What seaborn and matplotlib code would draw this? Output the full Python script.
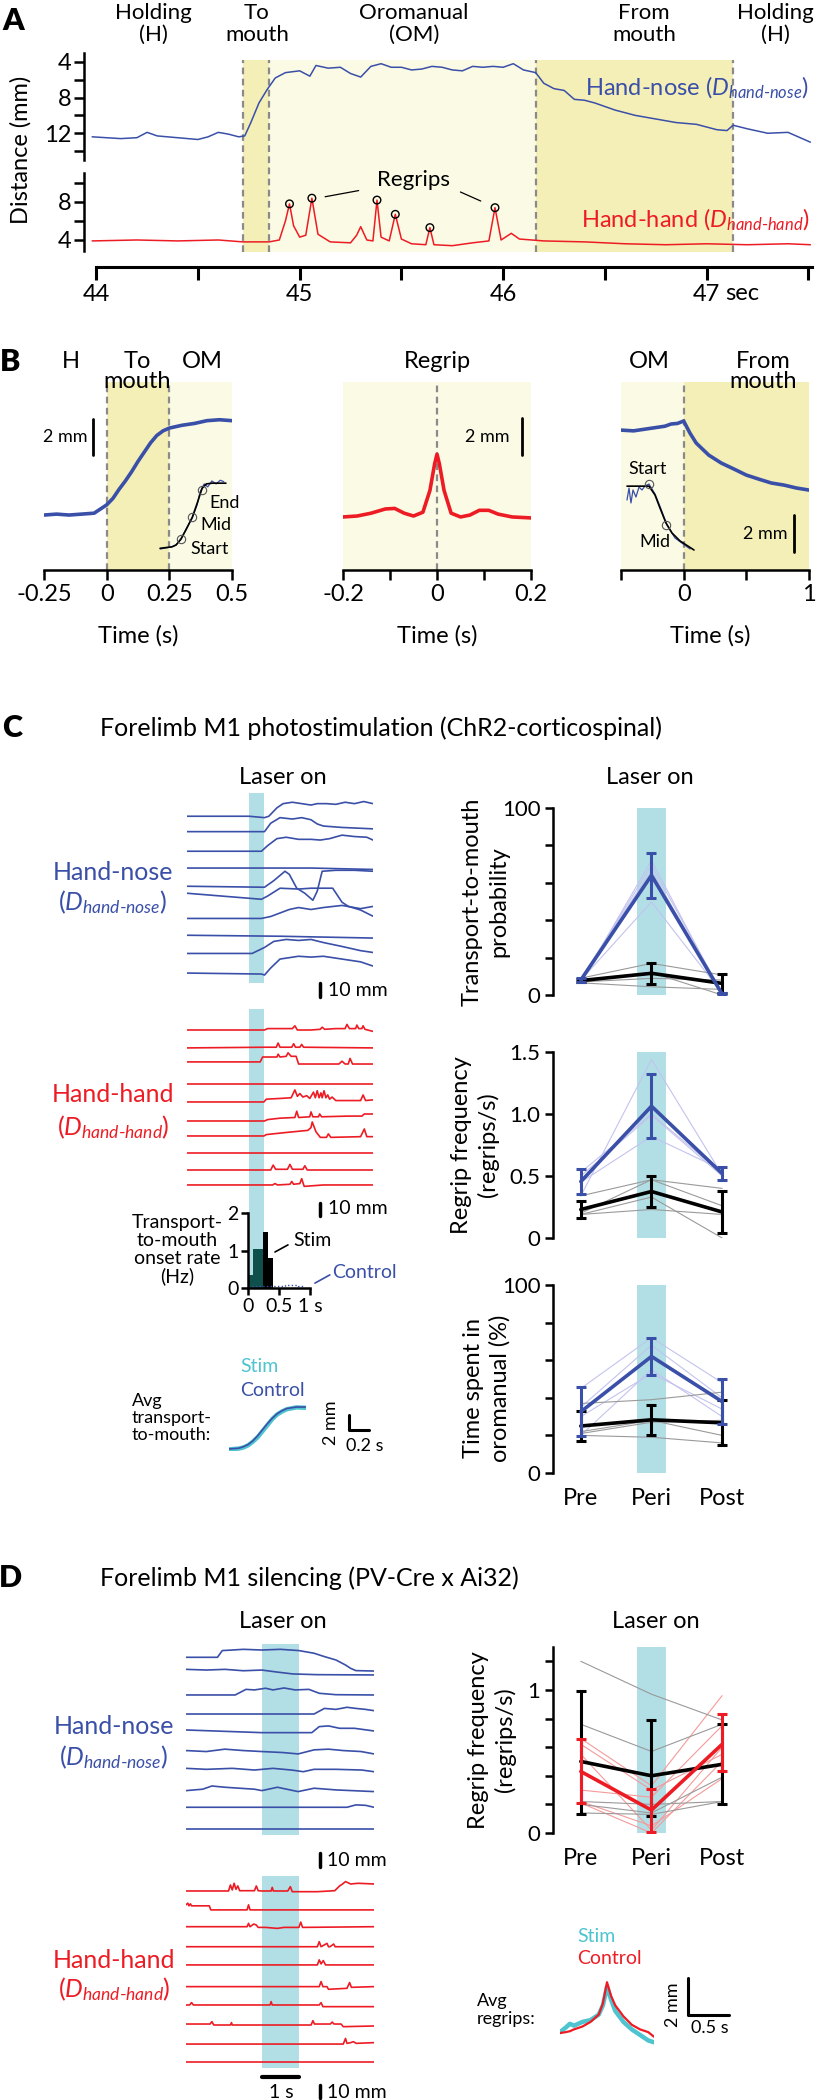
import matplotlib
matplotlib.use('Agg')
import matplotlib.pyplot as plt
import pandas as pd
import seaborn as sns

# ---------------- data ----------------
# Panel A: one example trial (time in s, distance in mm)
a_phase_edges = [44.72, 44.85, 46.16, 47.13]
a_nose = [(43.98, 12.4), (44.05, 12.5), (44.12, 12.6), (44.2, 12.5), (44.25, 11.9), (44.3, 12.3),
          (44.4, 12.5), (44.5, 12.7), (44.55, 12.4), (44.6, 11.9), (44.65, 12.1), (44.7, 12.4),
          (44.73, 12.3), (44.76, 10.8), (44.8, 8.6), (44.84, 7.1), (44.88, 5.8), (44.93, 5.2),
          (45.0, 5.0), (45.05, 5.6), (45.08, 4.4), (45.14, 4.7), (45.2, 4.6), (45.25, 5.3),
          (45.3, 5.7), (45.35, 4.5), (45.4, 4.2), (45.45, 4.6), (45.5, 4.6), (45.55, 4.9),
          (45.6, 4.8), (45.65, 4.5), (45.7, 4.6), (45.75, 4.9), (45.8, 5.0), (45.85, 4.5),
          (45.9, 4.6), (45.95, 4.5), (46.0, 4.6), (46.05, 4.2), (46.1, 4.9), (46.16, 5.2),
          (46.2, 6.4), (46.25, 7.0), (46.3, 7.2), (46.35, 8.2), (46.4, 8.3), (46.45, 8.6),
          (46.55, 9.4), (46.65, 10.0), (46.75, 10.4), (46.85, 10.8), (46.95, 11.0), (47.05, 11.6),
          (47.1, 11.7), (47.13, 11.1), (47.2, 11.5), (47.3, 12.0), (47.4, 11.9), (47.45, 12.4),
          (47.51, 13.0)]
a_hand = [(43.98, 3.9), (44.2, 4.0), (44.4, 3.9), (44.6, 4.0), (44.72, 3.8), (44.85, 3.8),
          (44.9, 4.0), (44.93, 6.0), (44.95, 7.8), (44.97, 5.5), (45.0, 4.3), (45.03, 4.5),
          (45.06, 8.4), (45.09, 4.6), (45.15, 3.8), (45.25, 3.7), (45.28, 4.5), (45.30, 5.4),
          (45.33, 4.0), (45.36, 3.9), (45.38, 8.2), (45.40, 4.3), (45.44, 3.9), (45.47, 6.7),
          (45.5, 4.1), (45.55, 3.6), (45.62, 3.5), (45.64, 5.3), (45.66, 3.5), (45.75, 3.4),
          (45.85, 3.7), (45.93, 3.9), (45.96, 7.4), (45.99, 4.0), (46.04, 4.7), (46.08, 4.1),
          (46.2, 3.9), (46.4, 3.8), (46.6, 3.6), (46.8, 3.5), (47.0, 3.6), (47.2, 3.5),
          (47.4, 3.6), (47.51, 3.5)]
a_regrip_t = [44.95, 45.06, 45.38, 45.47, 45.64, 45.96]
a_regrip_mm = [7.8, 8.4, 8.2, 6.7, 5.3, 7.4]

# Panel B: averaged traces (s, mm)
b_to_mouth = [(-0.25, 0.0), (-0.2, 0.05), (-0.15, 0.0), (-0.1, 0.05), (-0.05, 0.1), (0.0, 0.55),
              (0.025, 0.9), (0.05, 1.4), (0.075, 1.85), (0.1, 2.35), (0.125, 2.9), (0.15, 3.4),
              (0.175, 3.9), (0.2, 4.3), (0.225, 4.55), (0.25, 4.7), (0.3, 4.85), (0.35, 4.95),
              (0.4, 5.1), (0.45, 5.15), (0.5, 5.1)]
b_regrip = [(-0.2, 0.0), (-0.17, 0.05), (-0.14, 0.2), (-0.11, 0.42), (-0.09, 0.45), (-0.07, 0.2),
            (-0.05, 0.05), (-0.03, 0.25), (-0.015, 1.4), (-0.005, 2.8), (0.0, 3.3), (0.005, 2.8),
            (0.015, 1.4), (0.03, 0.2), (0.05, 0.0), (0.07, 0.1), (0.09, 0.35), (0.11, 0.35),
            (0.13, 0.15), (0.16, 0.0), (0.2, -0.05)]
b_from_mouth = [(-0.5, 3.24), (-0.4, 3.2), (-0.25, 3.35), (-0.15, 3.45), (-0.1, 3.57), (-0.05, 3.6),
                (0.0, 3.73), (0.05, 3.08), (0.1, 2.54), (0.2, 1.89), (0.3, 1.46), (0.4, 1.14),
                (0.5, 0.81), (0.6, 0.59), (0.7, 0.38), (0.8, 0.27), (0.9, 0.11), (1.0, 0.0)]
# B insets (normalised units)
b_in_fit = [(0.03, 0.05), (0.2, 0.07), (0.26, 0.095), (0.33, 0.18), (0.4, 0.30), (0.49, 0.47),
            (0.56, 0.66), (0.63, 0.86), (0.69, 0.92), (0.77, 0.93), (0.97, 0.93)]
b_in_raw = [(0.03, 0.04), (0.2, 0.07), (0.26, 0.1), (0.33, 0.17), (0.4, 0.31), (0.49, 0.46),
            (0.56, 0.64), (0.6, 0.81), (0.66, 0.92), (0.71, 0.88), (0.77, 0.96), (0.83, 0.92),
            (0.89, 0.97), (0.94, 0.95)]
b_in_marks = [(0.33, 0.18), (0.49, 0.47), (0.63, 0.84)]
b_out_fit = [(0.064, 0.81), (0.346, 0.81), (0.423, 0.706), (0.487, 0.553), (0.564, 0.376),
             (0.641, 0.259), (0.744, 0.165), (0.923, 0.059)]
b_out_raw = [(0.064, 0.647), (0.09, 0.788), (0.115, 0.612), (0.141, 0.765), (0.179, 0.682),
             (0.218, 0.8), (0.256, 0.765), (0.295, 0.812), (0.346, 0.835), (0.423, 0.718),
             (0.5, 0.541), (0.577, 0.353), (0.679, 0.2), (0.872, 0.071)]
b_out_marks = [(0.346, 0.835), (0.564, 0.353)]

# Panel C: example trials (s, mm displacement from each trial's baseline)
c_nose = [
    [(-1, 0), (0, 0), (0.25, -1), (0.32, 0), (0.45, 6), (0.55, 9), (0.7, 10), (0.85, 9), (1.0, 8),
     (1.1, 9), (1.25, 9), (1.4, 8.5), (1.55, 10), (1.7, 9), (1.85, 10.5), (2.0, 9)],
    [(-1, 0), (0.25, 0), (0.35, 6), (0.5, 10), (0.7, 9), (0.85, 10), (1.0, 8.5), (1.1, 5.5),
     (1.2, 4), (1.5, 3), (2.0, 2)],
    [(-1, 0), (0.2, 0), (0.3, 4), (0.45, 9), (0.6, 10), (0.8, 8.5), (1.0, 8.5), (1.15, 8),
     (1.3, 9), (1.5, 11.5), (1.7, 10.5), (1.9, 10), (2.0, 8)],
    [(-1, 0), (1.0, 0), (2.0, -1)],
    [(-1, 0), (0.25, -0.7), (0.4, 4), (0.58, 10.7), (0.65, 8.5), (0.77, -1.4), (0.9, -5),
     (1.03, -10), (1.1, -3.6), (1.18, 10.7), (1.4, 11.4), (1.7, 11.4), (2.0, 10.7)],
    [(-1, 0), (0.2, -4.3), (0.3, -2), (0.5, 3.6), (0.8, 3), (1.0, 3.6), (1.35, 3.6), (1.5, -6.4),
     (1.6, -9.3), (1.8, -12), (2.0, -16.4)],
    [(-1, 0), (0.2, 0), (0.35, 1.4), (0.65, 6.4), (0.8, 7.8), (1.0, 6.4), (1.2, 7.8), (1.5, 9.3),
     (1.8, 7), (2.0, 8.6)],
    [(-1, 0), (0.5, -0.7), (2.0, -2)],
    [(-1, 0), (0.05, 0), (0.25, 4.3), (0.4, 8.6), (0.6, 10), (0.8, 9.3), (1.0, 10), (1.2, 7.8),
     (1.5, 5), (1.8, 2), (2.0, 0.7)],
    [(-1, 0), (0.2, -0.7), (0.25, -1.4), (0.35, 3.6), (0.5, 10), (0.8, 12), (1.0, 11.4), (1.2, 12),
     (1.5, 10), (1.8, 8), (2.0, 5)],
]
c_hand = [
    [(-1, 0), (0.25, 0), (0.3, 1), (0.7, 1), (0.74, 3), (0.78, 0), (1.0, 0), (1.15, 0.5), (1.18, 2),
     (1.22, 0.5), (1.4, 1), (1.55, 1), (1.58, 4), (1.62, 1), (1.72, 1), (1.74, 3.5), (1.77, 1),
     (1.82, 1), (1.84, 3), (1.87, 0.5), (2.0, -1)],
    [(-1, 0), (0.3, 0.5), (0.44, 0.5), (0.47, 3.5), (0.5, 0.5), (0.69, 0.5), (0.72, 3), (0.75, 0.5),
     (0.82, 0.5), (0.85, 2.5), (0.88, 0.5), (2.0, 0)],
    [(-1, 0), (0.18, 0), (0.22, 3.5), (0.45, 3.5), (0.47, 5.5), (0.5, 3.5), (0.6, 4), (0.63, 6.5),
     (0.68, 4), (0.76, 4), (0.8, -1.5), (1.45, -1.5), (1.5, 0.5), (1.55, -1.5), (1.6, -1.5),
     (1.63, 2.5), (1.67, -1.5), (2.0, -1.5)],
    [(-1, 0), (2.0, 0)],
    [(-1, 0), (0.24, 0), (0.28, 2), (0.5, 2.5), (0.68, 3), (0.74, 8.6), (0.78, 4), (0.82, 6),
     (0.87, 3.5), (0.93, 4.5), (0.98, 2.5), (1.04, 7), (1.07, 3), (1.1, 8), (1.13, 3), (1.16, 6.5),
     (1.18, 3), (1.21, 8), (1.24, 3), (1.27, 5), (1.3, 2), (1.34, 3.5), (1.4, 1), (1.6, 1),
     (1.8, 1), (1.84, 5), (1.88, 1), (2.0, 1.5)],
    [(-1, 0), (0.25, 0), (0.3, 1), (0.5, 2), (0.74, 2.5), (0.77, 7), (0.8, 2.5), (0.98, 3),
     (1.0, 6.5), (1.03, 3), (1.12, 3), (1.14, 5), (1.17, 3), (1.6, 3.5), (1.82, 3.5), (1.86, 5),
     (2.0, 5)],
    [(-1, 0), (0.24, 0), (0.28, 1), (0.6, 2.5), (0.95, 4), (1.0, 6), (1.02, 10), (1.08, 3),
     (1.15, -1), (1.25, -1), (1.28, 1.5), (1.32, -1), (1.8, -0.5), (1.86, 5), (1.9, -0.5),
     (2.0, -0.5)],
    [(-1, 0), (2.0, 0)],
    [(-1, 0), (0.35, 0), (0.39, 3.5), (0.43, 0.5), (0.62, 0.5), (0.66, 4), (0.7, 0.5), (0.87, 0.5),
     (0.9, 3), (0.94, 0), (2.0, 0)],
    [(-1, 0), (0.38, 0), (0.42, 1), (0.46, 0), (0.66, 0.5), (0.69, 2.5), (0.72, 0.5), (0.82, 1),
     (0.85, 4.5), (0.89, -1), (1.2, 0), (2.0, 0)],
]
c_nose_base = [112, 101, 87, 75, 62, 57, 39, 27, 14, 0]
c_hand_base = [110.7, 97.9, 87.9, 72.1, 59.3, 45.7, 35, 22.9, 10.7, 0]

# transport-to-mouth onset histogram (Hz)
hist_left = [0.0, 0.08, 0.16, 0.24, 0.32]
hist_stim = [0.35, 1.05, 1.05, 1.5, 0.8]
hist_ctrl_t = [0.0, 0.1, 0.2, 0.3, 0.4, 0.5, 0.6, 0.7, 0.8, 0.9]
hist_ctrl = [0.05, 0.05, 0.05, 0.05, 0.05, 0.05, 0.08, 0.08, 0.06, 0.05]

# average transport-to-mouth (s, mm)
c_avg_t = [0, 0.1, 0.15, 0.2, 0.25, 0.3, 0.35, 0.4, 0.45, 0.5, 0.55, 0.6, 0.7, 0.8]
c_avg_ctrl = [0.0, 0.1, 0.3, 0.6, 1.1, 1.8, 2.6, 3.4, 4.1, 4.7, 5.1, 5.4, 5.6, 5.6]
c_avg_stim = [-0.05, 0.05, 0.2, 0.5, 1.0, 1.6, 2.4, 3.2, 4.0, 4.6, 5.0, 5.3, 5.55, 5.5]

phases = ['Pre', 'Peri', 'Post']
c_prob_stim = [[7, 72, 0], [8, 69.4, 1], [9, 66.7, 0], [8, 49.8, 1]]
c_prob_ctrl = [[9, 16.9, 10.7], [6.5, 4.4, 3], [8, 12, 0], [7, 8.9, 8]]
c_prob_stim_mean, c_prob_stim_sem = [8.0, 64.0, 0.5], [1.0, 12.0, 0.5]
c_prob_ctrl_mean, c_prob_ctrl_sem = [7.7, 11.6, 6.2], [1.0, 5.6, 5.0]

c_freq_stim = [[0.34, 1.44, 0.51], [0.50, 0.99, 0.50], [0.45, 0.82, 0.55], [0.53, 1.00, 0.52]]
c_freq_ctrl = [[0.34, 0.47, 0.40], [0.20, 0.47, 0.26], [0.19, 0.33, 0.0], [0.19, 0.23, 0.19]]
c_freq_stim_mean, c_freq_stim_sem = [0.455, 1.063, 0.52], [0.10, 0.26, 0.05]
c_freq_ctrl_mean, c_freq_ctrl_sem = [0.23, 0.375, 0.21], [0.07, 0.125, 0.17]

c_om_stim = [[45, 72, 48], [35, 68, 40], [20, 55, 30], [30, 53, 34]]
c_om_ctrl = [[37, 39, 43], [20, 19, 16], [22, 28, 20], [21, 27, 28]]
c_om_stim_mean, c_om_stim_sem = [32.6, 62, 38], [13, 10, 12]
c_om_ctrl_mean, c_om_ctrl_sem = [25, 28.3, 26.7], [8, 8, 12]

# Panel D: example trials (s, mm)
d_nose = [
    [(-2.05, 0), (-1.2, 0), (-1.07, 4.8), (-0.8, 5.2), (-0.5, 5.7), (0, 5.2), (0.5, 5.7), (1.0, 4.8),
     (1.41, 2.9), (1.69, 0.5), (2.0, -1.9), (2.26, -5.5), (2.4, -7.9), (2.54, -9.5), (3.03, -9.8)],
    [(-2.05, 0), (-1.5, -0.5), (-1.0, 0), (-0.5, -1), (0, -0.5), (0.4, -1.9), (0.84, -3.3),
     (1.5, -3.8), (3.03, -4)],
    [(-2.05, 0), (-0.72, 0), (-0.43, 4), (-0.2, 3.6), (0.1, 4.8), (0.3, 3.6), (0.6, 5), (0.9, 3.6),
     (1.27, 4), (1.55, 1.2), (2.0, 0.2), (3.03, 0)],
    [(-2.05, 0), (1.41, 0), (1.69, 4), (2.0, 3.3), (2.3, 4.8), (2.54, 4), (2.8, 3.3), (3.03, 2.4)],
    [(-2.05, 0), (0, -1.9), (1.35, -1.9), (1.55, 2.4), (1.8, 2.9), (2.1, 1.2), (2.5, 1.2), (3.03, -0.7)],
    [(-2.05, 0), (-1.5, -0.7), (-1.0, 1), (-0.5, 0), (0, -0.7), (0.56, -1.4), (0.98, -2.4),
     (1.41, 0.5), (1.8, 1), (2.2, 0), (2.68, -0.7), (3.03, -2.4)],
    [(-2.05, 0), (-1.5, -0.7), (-0.8, 0), (-0.2, -1.2), (0.3, 0), (0.8, -1.2), (1.12, -2.4),
     (1.41, -0.7), (2.0, -0.7), (2.7, -1.2), (3.03, -2.4)],
    [(-2.05, 0), (-1.6, 1), (-1.35, 3.3), (-1.0, 2.4), (-0.6, 1.7), (-0.2, 1), (0, 0), (0.42, 2.4),
     (0.98, -0.7), (1.41, 1.7), (2.0, 0.5), (3.03, -0.7)],
    [(-2.05, 0), (2.3, 0), (2.54, 1.7), (2.8, 1.4), (3.03, 0)],
    [(-2.05, 0), (3.03, 0)],
]
d_hand = [
    [(-2.05, 0), (-0.9, 0), (-0.85, 4.3), (-0.8, 0.7), (-0.75, 5.5), (-0.7, 1.2), (-0.65, 3.6),
     (-0.6, 0.2), (-0.2, 0.2), (-0.15, 3.6), (-0.1, 0.2), (0.0, 0), (0.25, 0), (0.28, 2.6),
     (0.31, 0), (0.7, 0), (0.77, 3.1), (0.82, -0.5), (1.5, -0.5), (1.97, 0.2), (2.1, 3.6),
     (2.18, 5), (2.26, 6.7), (2.4, 5), (2.6, 5.5), (3.03, 5)],
    [(-2.05, 0), (-2.0, 1.2), (-1.97, -0.7), (-1.93, 0.7), (-1.9, -0.7), (-1.42, -0.7),
     (-1.38, -3.6), (-0.4, -3.6), (-0.36, 0), (-0.32, -3.6), (3.03, -3.6)],
    [(-2.05, 0), (-0.4, 0), (-0.36, 2.4), (-0.32, 0), (-0.22, 1.9), (-0.15, 1.2), (-0.1, -0.5),
     (0.1, -0.5), (0.42, -1.2), (0.6, -0.5), (1.0, -0.5), (1.05, 3.3), (1.1, -0.5), (3.03, 0)],
    [(-2.05, 0), (1.5, 0), (1.55, 3.6), (1.6, 0), (1.76, 2.4), (1.8, 0), (1.84, 0), (1.94, 1.9),
     (1.98, 0), (3.03, 0)],
    [(-2.05, 0), (1.5, 0), (1.55, 3.6), (1.6, 0.7), (1.66, 3.1), (1.72, 0), (3.03, 0)],
    [(-2.05, 0), (1.55, 0), (1.6, 3.6), (1.65, 0), (1.76, 0), (1.8, -1.9), (2.3, -1.2),
     (2.37, 2.9), (2.42, -0.5), (3.03, 0)],
    [(-2.05, 0), (-1.95, 0), (-1.9, 1.7), (-1.85, 0), (0.22, 0), (0.25, 2.4), (0.28, 0), (1.55, 0),
     (1.6, 1.7), (1.65, -1.2), (3.03, -1.2)],
    [(-2.05, 0), (-1.4, 0), (-1.35, 1.7), (-1.3, -0.7), (-0.85, -0.7), (-0.82, 1), (-0.8, -0.7),
     (1.33, -0.7), (1.38, 2.4), (1.42, 0), (1.85, 0), (1.9, 1.4), (1.95, 0), (2.14, 0),
     (2.2, -1.9), (3.03, -1.4)],
    [(-2.05, 0), (2.2, 0), (2.26, 4), (2.3, 0.5), (2.4, 1), (2.47, 1.7), (2.55, 0.5), (3.03, 1)],
    [(-2.05, 0), (3.03, 0)],
]
d_nose_base = [122.6, 114, 95.7, 82.1, 70.7, 56, 43.3, 27.4, 15.5, 0]
d_hand_base = [121.9, 112, 96.4, 82.1, 69.1, 53.6, 40.5, 26.9, 12.6, 0]

d_freq_ctrl = [[1.2, 0.97, 0.79], [0.76, 0.57, 0.76], [0.22, 0.2, 0.22], [0.2, 0.14, 0.39],
               [0.14, 0.13, 0.22]]
d_freq_stim = [[0.66, 0.33, 0.96], [0.62, 0.30, 0.55], [0.55, 0.02, 0.60], [0.30, 0.25, 0.75],
               [0.21, 0.0, 0.50], [0.22, 0.05, 0.38]]
d_freq_ctrl_mean = [0.50, 0.40, 0.48]
d_freq_ctrl_err = [[0.37, 0.28, 0.28], [0.49, 0.39, 0.28]]
d_freq_stim_mean = [0.43, 0.16, 0.62]
d_freq_stim_err = [[0.22, 0.155, 0.19], [0.23, 0.15, 0.21]]

d_avg_t = [-0.57, -0.5, -0.45, -0.4, -0.3, -0.2, -0.1, -0.05, 0.0, 0.05, 0.1, 0.2, 0.3, 0.4, 0.5, 0.57]
d_avg_ctrl = [0.0, 0.05, 0.1, 0.2, 0.35, 0.6, 1.0, 1.6, 2.75, 2.0, 1.5, 0.9, 0.45, 0.2, 0.05, -0.2]
d_avg_stim = [0.05, 0.3, 0.5, 0.4, 0.6, 0.7, 1.0, 1.5, 2.5, 1.8, 1.2, 0.6, 0.2, -0.1, -0.4, -0.5]

# ---------------- style ----------------
BLUE = '#3a4fa8'
RED = '#ed1c24'
BAND = '#b2dfe6'
CYAN = '#4ec4d0'
LAV = '#c3c3ee'
LRED = '#f59a9a'
GRAY = '#9a9a9a'
Y_DARK = '#f4efb6'
Y_LIGHT = '#fbfae4'
DASH = '#8a8a8a'
TEAL = '#0f4f4c'

sns.set_theme(style='ticks', rc={'axes.edgecolor': 'black', 'xtick.color': 'black',
                                 'ytick.color': 'black', 'text.color': 'black',
                                 'axes.linewidth': 1.8, 'xtick.major.width': 1.8,
                                 'ytick.major.width': 1.8, 'xtick.minor.width': 1.8,
                                 'ytick.minor.width': 1.8, 'xtick.major.size': 6,
                                 'ytick.major.size': 6})
plt.rcParams['font.family'] = ['Lato', 'DejaVu Sans']
plt.rcParams['mathtext.fontset'] = 'custom'
plt.rcParams['mathtext.rm'] = 'Lato'
plt.rcParams['mathtext.it'] = 'Lato:italic'

W, H = 820, 2100
fig = plt.figure(figsize=(W / 100, H / 100), dpi=100)


def px_axes(x0, y0, x1, y1, z=1):
    ax = fig.add_axes([x0 / W, 1 - y1 / H, (x1 - x0) / W, (y1 - y0) / H], zorder=z)
    ax.patch.set_alpha(0)
    return ax


def ftext(x, y, s, **kw):
    kw.setdefault('ha', 'center')
    kw.setdefault('va', 'center')
    fig.text(x / W, 1 - y / H, s, **kw)


def bare(ax):
    for s in ax.spines.values():
        s.set_visible(False)
    ax.set_xticks([])
    ax.set_yticks([])


def line(ax, pts, color, lw, **kw):
    t, v = zip(*pts)
    sns.lineplot(x=list(t), y=list(v), ax=ax, color=color, lw=lw, estimator=None,
                 sort=False, legend=False, **kw)


def only(ax, which):
    for k, s in ax.spines.items():
        s.set_visible(k in which)


# ================= A =================
ftext(13, 21, 'A', fontsize=22, weight='heavy')
for x, s in [(153, 'Holding\n(H)'), (257, 'To\nmouth'), (414, 'Oromanual\n(OM)'),
             (644, 'From\nmouth'), (775, 'Holding\n(H)')]:
    ftext(x, 24, s, fontsize=16, linespacing=1.1)

A_XLIM = (43.94, 47.518)
ax = px_axes(84, 60, 812, 252, z=0)
ax.set_xlim(A_XLIM)
bare(ax)
e = a_phase_edges
ax.axvspan(e[0], e[1], color=Y_DARK, lw=0)
ax.axvspan(e[1], e[2], color=Y_LIGHT, lw=0)
ax.axvspan(e[2], e[3], color=Y_DARK, lw=0)
for x in e:
    ax.axvline(x, color=DASH, ls=(0, (3, 2)), lw=1.6)

ax = px_axes(84, 53, 812, 160, z=2)
line(ax, a_nose, BLUE, 1.1)
ax.set_xlim(A_XLIM)
ax.set_ylim(15, 3)
only(ax, ['left'])
ax.set_xticks([])
ax.set_yticks([4, 8, 12])
ax.set_yticks([6, 10, 14], minor=True)
ax.tick_params(axis='y', which='both', labelsize=17, length=7, pad=2)

ax = px_axes(84, 173, 812, 251, z=2)
line(ax, a_hand, RED, 1.1)
sns.scatterplot(x=a_regrip_t, y=a_regrip_mm, ax=ax, marker='o', s=30, facecolor='none',
                edgecolor='black', linewidth=1.0, zorder=5)
ax.plot([45.125, 45.29], [8.55, 9.2], color='black', lw=0.9)
ax.plot([45.79, 45.89], [9.05, 8.1], color='black', lw=0.9)
ax.text(45.56, 10.3, 'Regrips', ha='center', va='center', fontsize=16)
ax.set_xlim(A_XLIM)
ax.set_ylim(2.84, 11.05)
only(ax, ['left'])
ax.set_xticks([])
ax.set_yticks([4, 8])
ax.set_yticks([6, 10], minor=True)
ax.tick_params(axis='y', which='both', labelsize=17, length=7, pad=2)

ax = px_axes(84, 240, 812, 267, z=2)
ax.set_xlim(A_XLIM)
only(ax, ['bottom'])
ax.spines['bottom'].set_bounds(44, 47.52)
ax.spines['bottom'].set_linewidth(2.2)
ax.set_yticks([])
ax.set_xticks([44, 45, 46, 47])
ax.set_xticks([44.5, 45.5, 46.5, 47.5], minor=True)
ax.tick_params(axis='x', which='both', labelsize=17, length=9, width=2.2, pad=3)
ftext(725, 294, 'sec', ha='left', fontsize=17)

ftext(21, 150, 'Distance (mm)', rotation=90, fontsize=17)
ftext(585, 88, r'Hand-nose ($D_{hand\text{-}nose}$)', ha='left', color=BLUE, fontsize=17)
ftext(581, 220, r'Hand-hand ($D_{hand\text{-}hand}$)', ha='left', color=RED, fontsize=17)

# ================= B =================
ftext(10, 362, 'B', fontsize=22, weight='heavy')
for x, y, s in [(71, 362, 'H'), (137, 362, 'To'), (137, 382, 'mouth'), (202, 362, 'OM'),
                (437, 362, 'Regrip'), (649, 362, 'OM'), (763, 362, 'From'), (763, 382, 'mouth')]:
    ftext(x, y, s, fontsize=17)


def b_axes(x0, x1, xlim, ylim, ticks, labels, minor):
    ax = px_axes(x0, 382, x1, 570)
    ax.set_xlim(xlim)
    ax.set_ylim(ylim)
    only(ax, ['bottom'])
    ax.set_yticks([])
    ax.set_xticks(ticks)
    ax.set_xticklabels(labels)
    ax.set_xticks(minor, minor=True)
    ax.tick_params(axis='x', which='both', labelsize=17, length=7, pad=3)
    return ax


ax = b_axes(44, 232, (-0.25, 0.5), (-2.97, 7.19), [-0.25, 0, 0.25, 0.5],
            ['-0.25', '0', '0.25', '0.5'], [])
ax.axvspan(0, 0.25, color=Y_DARK, lw=0, zorder=0)
ax.axvspan(0.25, 0.5, color=Y_LIGHT, lw=0, zorder=0)
for x in [0, 0.25]:
    ax.axvline(x, color=DASH, ls=(0, (3, 2)), lw=1.6, zorder=1)
line(ax, b_to_mouth, BLUE, 2.6)
ax.plot([-0.056, -0.056], [3.24, 5.19], color='black', lw=2)
ax.text(-0.075, 4.2, '2 mm', ha='right', va='center', fontsize=13)

ax = b_axes(343, 531, (-0.2, 0.2), (-2.79, 7.1), [-0.2, 0, 0.2], ['-0.2', '0', '0.2'], [-0.1, 0.1])
ax.axvspan(-0.2, 0.2, color=Y_LIGHT, lw=0, zorder=0)
ax.axvline(0, color=DASH, ls=(0, (3, 2)), lw=1.6, zorder=1)
line(ax, b_regrip, RED, 2.6)
ax.plot([0.181, 0.181], [3.26, 5.2], color='black', lw=2)
ax.text(0.155, 4.2, '2 mm', ha='right', va='center', fontsize=13)

ax = b_axes(621, 809, (-0.5, 1.0), (-4.32, 5.84), [0, 1], ['0', '1'], [-0.5, 0.5])
ax.axvspan(-0.5, 0, color=Y_LIGHT, lw=0, zorder=0)
ax.axvspan(0, 1.0, color=Y_DARK, lw=0, zorder=0)
ax.axvline(0, color=DASH, ls=(0, (3, 2)), lw=1.6, zorder=1)
line(ax, b_from_mouth, BLUE, 2.6)
ax.plot([0.88, 0.88], [-3.35, -1.35], color='black', lw=2)
ax.text(0.825, -2.35, '2 mm', ha='right', va='center', fontsize=13)

for x in [138, 437, 710]:
    ftext(x, 636, 'Time (s)', fontsize=17)

# insets
ax = px_axes(158, 478, 228, 552, z=3)
bare(ax)
ax.set_xlim(0, 1)
ax.set_ylim(0, 1)
line(ax, b_in_raw, BLUE, 0.9)
line(ax, b_in_fit, 'black', 1.2)
mx, my = zip(*b_in_marks)
ax.plot(mx, my, 'o', ms=6, mfc='none', mec='#555555', mew=0.8)
ftext(209, 503, 'End', ha='left', fontsize=13)
ftext(200, 525, 'Mid', ha='left', fontsize=13)
ftext(190, 549, 'Start', ha='left', fontsize=13)

ax = px_axes(622, 470, 700, 555, z=3)
bare(ax)
ax.set_xlim(0, 1)
ax.set_ylim(0, 1)
line(ax, b_out_raw, BLUE, 0.9)
line(ax, b_out_fit, 'black', 1.2)
mx, my = zip(*b_out_marks)
ax.plot(mx, my, 'o', ms=6, mfc='none', mec='#555555', mew=0.8)
ftext(648, 469, 'Start', fontsize=13)
ftext(655, 542, 'Mid', fontsize=13)

# ================= C =================
ftext(12, 728, 'C', fontsize=22, weight='heavy')
ftext(100, 728, 'Forelimb M1 photostimulation (ChR2-corticospinal)', ha='left', fontsize=18)
ftext(283, 778, 'Laser on', fontsize=17)
ftext(650, 778, 'Laser on', fontsize=17)


def stack(ax, traces, bases, color):
    for tr, b in zip(traces, bases):
        line(ax, [(t, v + b) for t, v in tr], color, 1.2)


ax = px_axes(187, 793, 373, 983)
bare(ax)
ax.axvspan(0, 0.25, color=BAND, lw=0, zorder=0)
stack(ax, c_nose, c_nose_base, BLUE)
ax.set_xlim(-1.0, 2.0)
ax.set_ylim(-7.1, 128.6)
ax.plot([1.15, 1.15], [-7.1, -17.1], color='black', lw=2.5, clip_on=False)
ftext(328, 991, '10 mm', ha='left', fontsize=14)
ftext(113, 872, 'Hand-nose', color=BLUE, fontsize=18)
ftext(113, 902, r'($D_{hand\text{-}nose}$)', color=BLUE, fontsize=18)

ax = px_axes(187, 1009, 373, 1288)
bare(ax)
ax.axvspan(0, 0.25, color=BAND, lw=0, zorder=0)
stack(ax, c_hand, c_hand_base, RED)
ax.set_xlim(-1.0, 2.0)
ax.set_ylim(-73.6, 125.7)
ax.plot([1.15, 1.15], [-12.9, -21.9], color='black', lw=2.5)
ftext(328, 1209, '10 mm', ha='left', fontsize=14)
ftext(113, 1095, 'Hand-hand', color=RED, fontsize=18)
ftext(113, 1127, r'($D_{hand\text{-}hand}$)', color=RED, fontsize=18)

# onset-rate histogram
ax = px_axes(248, 1213, 310, 1288, z=3)
ax.bar(hist_left, hist_stim, width=0.08, align='edge', lw=0,
       color=[TEAL if x < 0.2 else 'black' for x in hist_left])
ax.step(hist_ctrl_t, hist_ctrl, where='post', color=BLUE, lw=1.0, ls=':')
ax.set_xlim(0, 1.0)
ax.set_ylim(0, 2)
only(ax, ['left', 'bottom'])
ax.set_xticks([0, 0.5, 1])
ax.set_xticklabels(['0', '0.5', '1 s'])
ax.set_yticks([0, 1, 2])
ax.tick_params(labelsize=14, length=5, pad=2)
ax.plot([0.435, 0.645], [0.96, 1.15], color='black', lw=1.2, clip_on=False)
ax.plot([1.08, 1.32], [0.13, 0.35], color=BLUE, lw=1.2, clip_on=False)
ftext(293, 1240, 'Stim', ha='left', fontsize=14)
ftext(332, 1273, 'Control', ha='left', color=BLUE, fontsize=14)
ftext(177, 1250, 'Transport-\nto-mouth\nonset rate\n(Hz)', fontsize=14, linespacing=1.05)

# average transport-to-mouth
ax = px_axes(229, 1405, 306, 1451)
bare(ax)
sns.lineplot(x=c_avg_t, y=c_avg_stim, ax=ax, color=CYAN, lw=3.2, estimator=None)
sns.lineplot(x=c_avg_t, y=c_avg_ctrl, ax=ax, color=BLUE, lw=1.2, estimator=None)
ax.set_xlim(0, 0.8)
ax.set_ylim(-0.27, 5.87)
ax.plot([1.25, 1.25, 1.45], [4.5, 2.5, 2.5], color='black', lw=2.2, clip_on=False)
ftext(331, 1423, '2 mm', rotation=90, fontsize=13)
ftext(365, 1446, '0.2 s', fontsize=13)
ftext(240, 1367, 'Stim', ha='left', color=CYAN, fontsize=14)
ftext(240, 1390, 'Control', ha='left', color=BLUE, fontsize=14)
ftext(132, 1418, 'Avg\ntransport-\nto-mouth:', ha='left', fontsize=13, linespacing=1.08)


def stat_panel(y0, y1, ylim, ticks, minor, ind_a, col_a, ind_b, col_b,
               mean_b, err_b, col_mb, mean_a, err_a, col_ma, xlabels):
    ax = px_axes(553, y0, 745, y1)
    ax.axvspan(0.8, 1.2, color=BAND, lw=0, zorder=0)
    for ind, col in [(ind_a, col_a), (ind_b, col_b)]:
        df = pd.DataFrame([(i, p, v) for i, r in enumerate(ind) for p, v in enumerate(r)],
                          columns=['unit', 'phase', 'val'])
        sns.lineplot(data=df, x='phase', y='val', units='unit', estimator=None, ax=ax,
                     color=col, lw=0.8, legend=False, zorder=2)
    for m, er, col, z in [(mean_b, err_b, col_mb, 3), (mean_a, err_a, col_ma, 4)]:
        sns.lineplot(x=[0, 1, 2], y=m, ax=ax, color=col, lw=2.6, estimator=None, zorder=z)
        ax.errorbar([0, 1, 2], m, yerr=er, fmt='none', ecolor=col, elinewidth=2.2,
                    capsize=3.5, capthick=2.2, zorder=z)
    ax.set_xlim(-0.394, 2.324)
    ax.set_ylim(ylim)
    only(ax, ['left'])
    ax.set_yticks(ticks)
    ax.set_yticks(minor, minor=True)
    ax.set_xlabel('')
    ax.set_ylabel('')
    ax.tick_params(axis='y', which='both', labelsize=16, length=6, pad=3)
    if xlabels:
        ax.set_xticks([0, 1, 2])
        ax.set_xticklabels(xlabels)
        ax.tick_params(axis='x', length=0, labelsize=17, pad=11)
    else:
        ax.set_xticks([])
    return ax


def ylab2(x1, x2, y, l1, l2):
    # two-line rotated axis label, one text per line
    ftext(x1, y, l1, rotation=90, fontsize=17)
    ftext(x2, y, l2, rotation=90, fontsize=17)


stat_panel(808, 995, (0, 100), [0, 100], [20, 40, 60, 80],
           c_prob_stim, LAV, c_prob_ctrl, GRAY, c_prob_ctrl_mean, c_prob_ctrl_sem, 'black',
           c_prob_stim_mean, c_prob_stim_sem, BLUE, None)
ylab2(472, 499, 902, 'Transport-to-mouth', 'probability')

ax = stat_panel(1052, 1238, (0, 1.5), [0, 0.5, 1.0, 1.5], [],
                c_freq_stim, LAV, c_freq_ctrl, GRAY, c_freq_ctrl_mean, c_freq_ctrl_sem, 'black',
                c_freq_stim_mean, c_freq_stim_sem, BLUE, None)
ax.set_yticklabels(['0', '0.5', '1.0', '1.5'])
ylab2(462, 488, 1145, 'Regrip frequency', '(regrips/s)')

stat_panel(1285, 1473, (0, 100), [0, 100], [20, 40, 60, 80],
           c_om_stim, LAV, c_om_ctrl, GRAY, c_om_ctrl_mean, c_om_ctrl_sem, 'black',
           c_om_stim_mean, c_om_stim_sem, BLUE, phases)
ylab2(474, 500, 1388, 'Time spent in', 'oromanual (%)')

# ================= D =================
ftext(10, 1578, 'D', fontsize=22, weight='heavy')
ftext(100, 1578, 'Forelimb M1 silencing (PV-Cre x Ai32)', ha='left', fontsize=18)
ftext(283, 1622, 'Laser on', fontsize=17)
ftext(656, 1622, 'Laser on', fontsize=17)

ax = px_axes(186, 1644, 374, 1835)
bare(ax)
ax.axvspan(0, 1, color=BAND, lw=0, zorder=0)
stack(ax, d_nose, d_nose_base, BLUE)
ax.set_xlim(-2.05, 3.03)
ax.set_ylim(-4.3, 132.1)
ax.plot([1.57, 1.57], [-17.1, -27.1], color='black', lw=2.5, clip_on=False)
ftext(327, 1860, '10 mm', ha='left', fontsize=14)
ftext(114, 1727, 'Hand-nose', color=BLUE, fontsize=18)
ftext(114, 1757, r'($D_{hand\text{-}nose}$)', color=BLUE, fontsize=18)

ax = px_axes(186, 1876, 374, 2068)
bare(ax)
ax.axvspan(0, 1, color=BAND, lw=0, zorder=0)
stack(ax, d_hand, d_hand_base, RED)
ax.set_xlim(-2.05, 3.03)
ax.set_ylim(-4.5, 132.6)
ax.plot([0, 1], [-10.9, -10.9], color='black', lw=3, clip_on=False)
ax.plot([1.57, 1.57], [-16.6, -26.0], color='black', lw=2.5, clip_on=False)
ftext(281, 2092, '1 s', fontsize=14)
ftext(327, 2092, '10 mm', ha='left', fontsize=14)
ftext(114, 1960, 'Hand-hand', color=RED, fontsize=18)
ftext(114, 1989, r'($D_{hand\text{-}hand}$)', color=RED, fontsize=18)

stat_panel(1647, 1833, (0, 1.30), [0, 1], [0.2, 0.4, 0.6, 0.8, 1.2],
           d_freq_stim, LRED, d_freq_ctrl, GRAY, d_freq_ctrl_mean, d_freq_ctrl_err, 'black',
           d_freq_stim_mean, d_freq_stim_err, RED, phases)
ylab2(479, 505, 1740, 'Regrip frequency', '(regrips/s)')

ax = px_axes(560, 1975, 654, 2046)
bare(ax)
sns.lineplot(x=d_avg_t, y=d_avg_stim, ax=ax, color=CYAN, lw=3.2, estimator=None)
sns.lineplot(x=d_avg_t, y=d_avg_ctrl, ax=ax, color=RED, lw=1.6, estimator=None)
ax.set_xlim(-0.57, 0.57)
ax.set_ylim(-0.7, 3.14)
ax.plot([0.98, 0.98, 1.48], [2.97, 0.97, 0.97], color='black', lw=2.2, clip_on=False)
ftext(673, 2005, '2 mm', rotation=90, fontsize=13)
ftext(710, 2028, '0.5 s', fontsize=13)
ftext(577, 1937, 'Stim', ha='left', color=CYAN, fontsize=14)
ftext(577, 1959, 'Control', ha='left', color=RED, fontsize=14)
ftext(477, 2010, 'Avg\nregrips:', ha='left', fontsize=13, linespacing=1.08)

fig.savefig('out.png', dpi=100)
